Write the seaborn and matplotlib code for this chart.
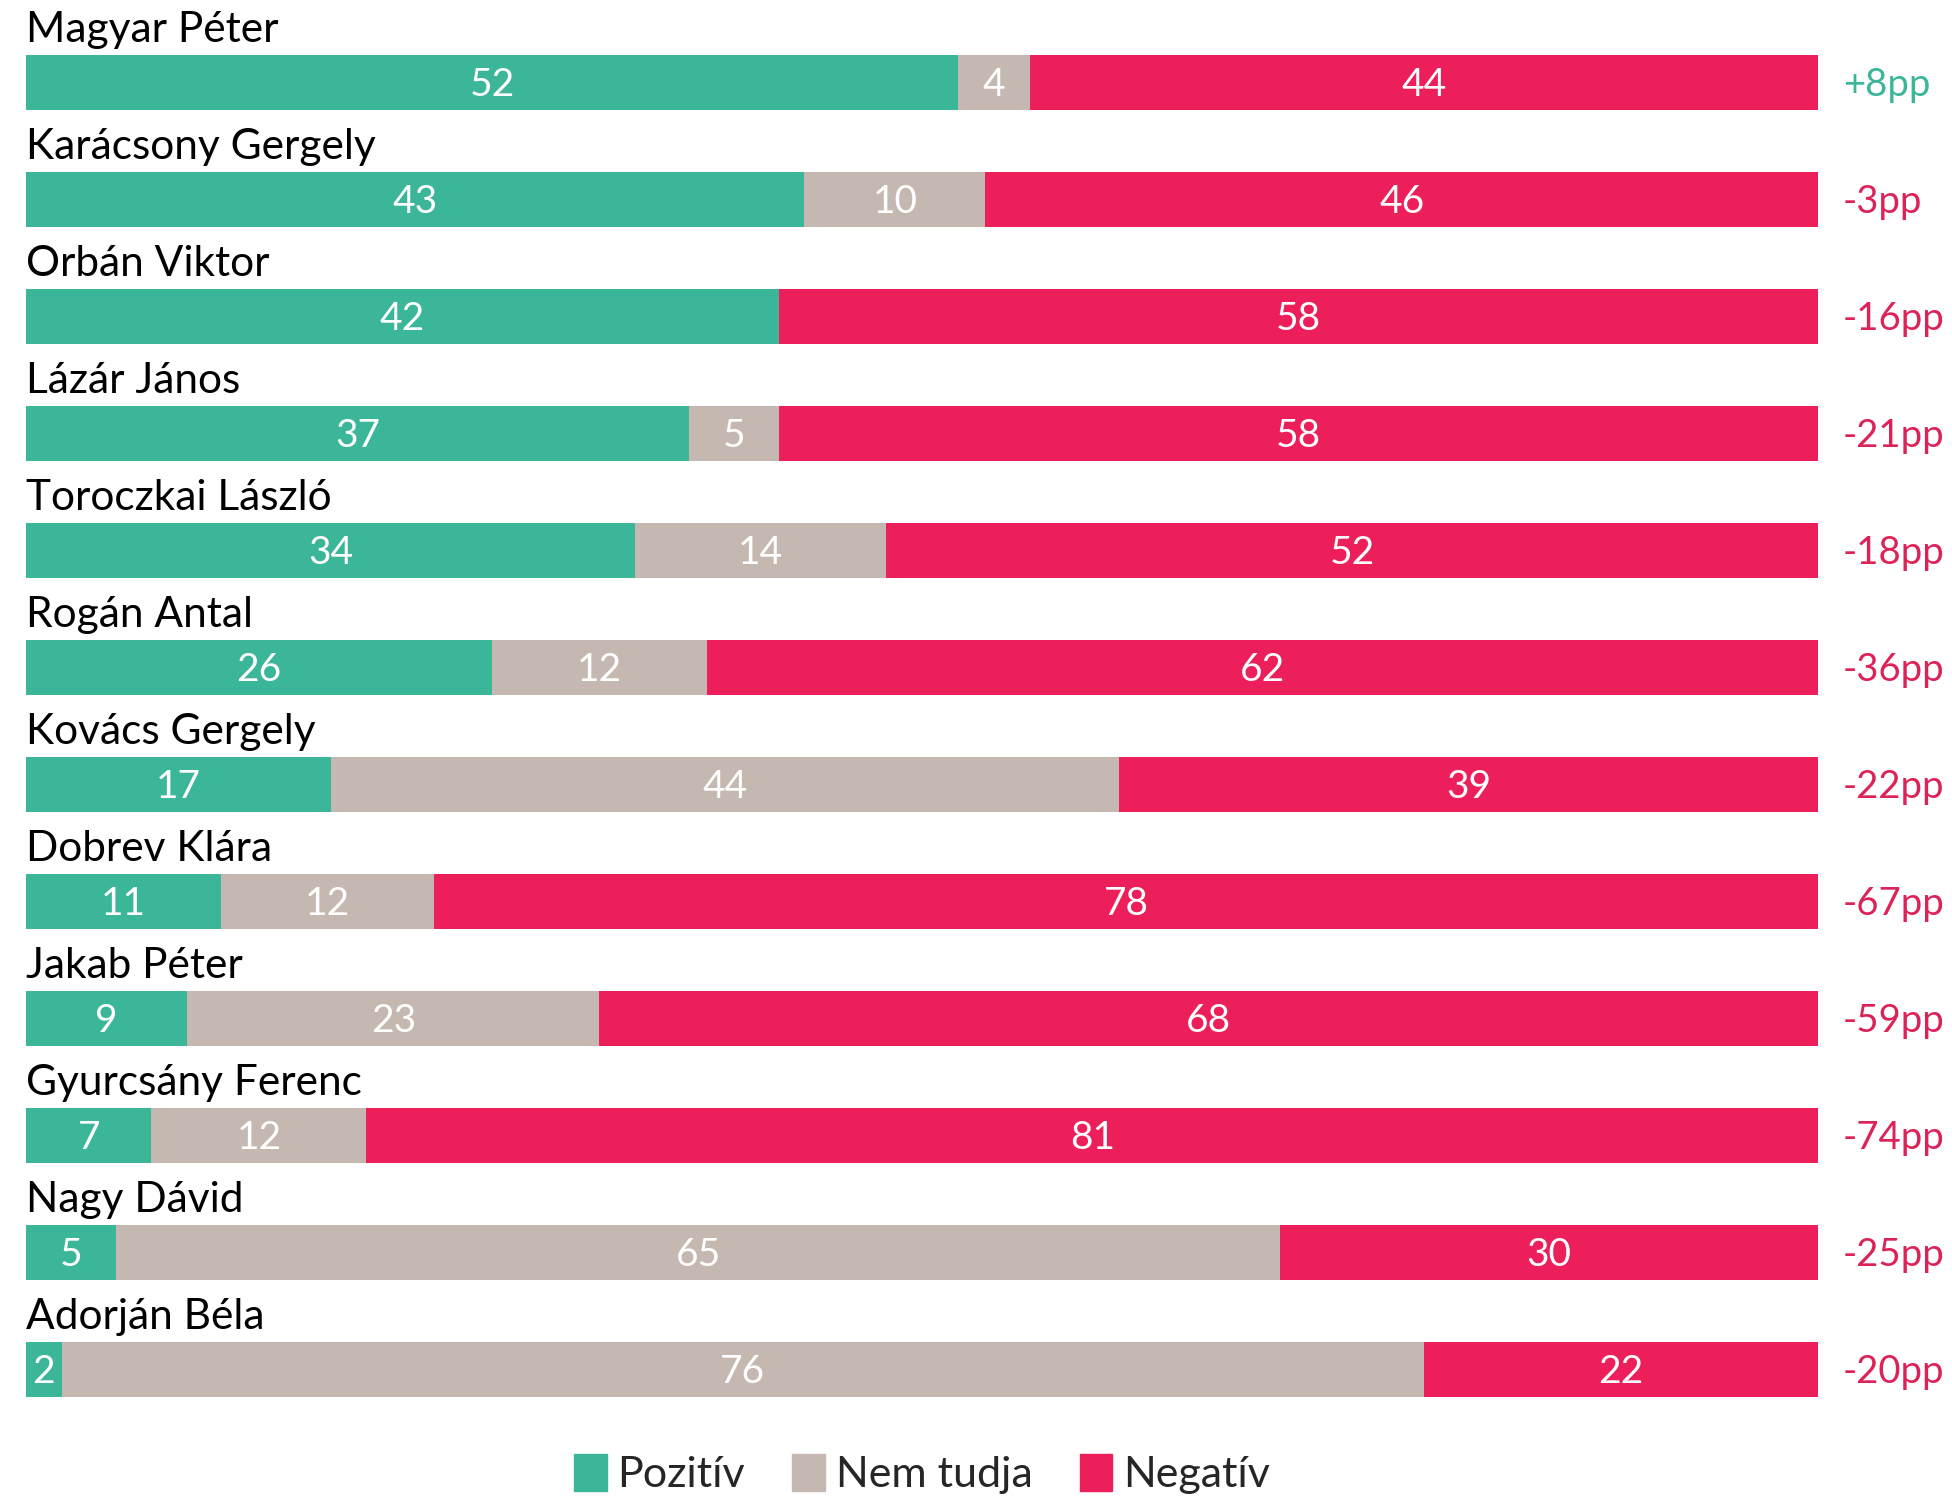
import numpy as np
import pandas as pd
import matplotlib.pyplot as plt
import seaborn as sns
from matplotlib.patches import Patch

sns.set_theme(style="white")
plt.rcParams['font.family'] = ['Lato', 'DejaVu Sans']

# Data
names = ["Magyar Péter", "Karácsony Gergely", "Orbán Viktor", "Lázár János",
         "Toroczkai László", "Rogán Antal", "Kovács Gergely", "Dobrev Klára",
         "Jakab Péter", "Gyurcsány Ferenc", "Nagy Dávid", "Adorján Béla"]
pozitiv = [52, 43, 42, 37, 34, 26, 17, 11, 9, 7, 5, 2]
nem_tudja = [4, 10, 0, 5, 14, 12, 44, 12, 23, 12, 65, 76]
negativ = [44, 46, 58, 58, 52, 62, 39, 78, 68, 81, 30, 22]
legend_labels = ["Pozitív", "Nem tudja", "Negatív"]

GREEN = "#3bb699"
GREY = "#c5b8b0"
RED = "#ec1f5b"
RED_TXT = "#dc2256"

df = pd.DataFrame({"name": names, "pos": pozitiv, "unk": nem_tudja, "neg": negativ})
total = df["pos"] + df["unk"] + df["neg"]
df["pos_p"] = df["pos"] / total * 100
df["unk_p"] = df["unk"] / total * 100
df["neg_p"] = df["neg"] / total * 100
df["c1"] = df["pos_p"]
df["c2"] = df["pos_p"] + df["unk_p"]
df["c3"] = df["c2"] + df["neg_p"]

fig = plt.figure(figsize=(19.52, 14.98), dpi=100)
ax = fig.add_axes([26 / 1952, 1 - 1428 / 1498, 1792 / 1952, 1404 / 1498])

# stacked bars by overdrawing cumulative totals
sns.barplot(data=df, x="c3", y="name", color=RED, width=0.47, ax=ax,
            orient="h", saturation=1, linewidth=0)
sns.barplot(data=df, x="c2", y="name", color=GREY, width=0.47, ax=ax,
            orient="h", saturation=1, linewidth=0)
sns.barplot(data=df, x="c1", y="name", color=GREEN, width=0.47, ax=ax,
            orient="h", saturation=1, linewidth=0)

ax.set_xlim(0, 100)
ax.set_ylim(len(names) - 0.5, -0.5)
ax.axis("off")

for i, row in df.iterrows():
    # name above bar
    ax.text(0, i - 0.235 - 0.11, row["name"], fontsize=30.5, color="black",
            ha="left", va="baseline")
    # segment values
    starts = [0, row["c1"], row["c2"]]
    widths = [row["pos_p"], row["unk_p"], row["neg_p"]]
    vals = [row["pos"], row["unk"], row["neg"]]
    for s, w, v in zip(starts, widths, vals):
        if v > 0:
            ax.text(s + w / 2, i + 0.02, str(v), fontsize=28, color="white",
                    ha="center", va="center")
    # difference label
    diff = row["pos"] - row["neg"]
    txt = f"+{diff}pp" if diff > 0 else f"{diff}pp"
    ax.text(101.4, i + 0.02, txt, fontsize=27.5, color=GREEN if diff > 0 else RED_TXT,
            ha="left", va="center", clip_on=False)

handles = [Patch(color=c) for c in [GREEN, GREY, RED]]
fig.legend(handles, legend_labels, loc="center", bbox_to_anchor=(922 / 1952, 1 - 1474 / 1498),
           ncol=3, frameon=False, fontsize=31, handlelength=0.75, handleheight=0.95,
           handletextpad=0.25, columnspacing=1.1)

fig.savefig("out.png", dpi=100)
